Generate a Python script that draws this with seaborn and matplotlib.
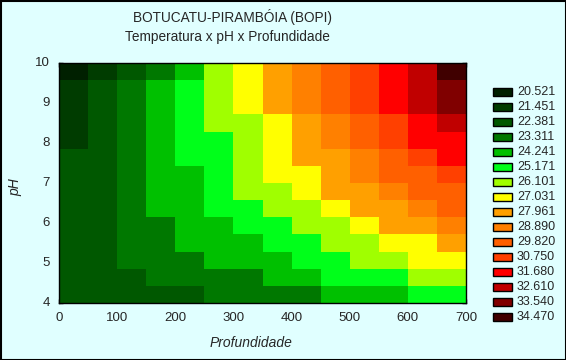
import numpy as np
import pandas as pd
import seaborn as sns
import matplotlib.pyplot as plt
from matplotlib.colors import ListedColormap, BoundaryNorm
from matplotlib.patches import Rectangle

# Legend levels (temperature) and their colours
levels = [20.521, 21.451, 22.381, 23.311, 24.241, 25.171, 26.101, 27.031,
          27.961, 28.890, 29.820, 30.750, 31.680, 32.610, 33.540, 34.470]
colors = ['#002000', '#003c00', '#005800', '#007800', '#00c000', '#00ff1a',
          '#a0ff00', '#ffff00', '#ffa000', '#ff8000', '#ff6000', '#ff4000',
          '#ff0000', '#c00000', '#800000', '#400000']

# Grid axes: profundidade (columns) and pH (rows, top = pH 10)
profundidade = [25, 75, 125, 175, 225, 275, 325, 375, 425, 475, 525, 575, 625, 675]
ph = [9.79, 9.36, 8.93, 8.50, 8.07, 7.64, 7.21, 6.79, 6.36, 5.93, 5.50, 5.07, 4.64, 4.21]

# Level index of each cell
classes = [
    [0, 1, 2, 3, 4, 6, 7, 8, 9, 10, 11, 12, 13, 15],
    [1, 2, 3, 4, 5, 6, 7, 8, 9, 10, 11, 12, 13, 14],
    [1, 2, 3, 4, 5, 6, 7, 8, 9, 10, 11, 12, 13, 14],
    [1, 2, 3, 4, 5, 6, 6, 7, 8, 9, 10, 11, 12, 13],
    [1, 2, 3, 4, 5, 5, 6, 7, 8, 9, 10, 11, 12, 12],
    [2, 2, 3, 4, 5, 5, 6, 7, 8, 8, 9, 10, 11, 12],
    [2, 2, 3, 4, 4, 5, 6, 7, 7, 8, 9, 10, 10, 11],
    [2, 2, 3, 4, 4, 5, 6, 6, 7, 8, 8, 9, 10, 10],
    [2, 2, 3, 4, 4, 5, 5, 6, 6, 7, 8, 8, 9, 10],
    [2, 2, 3, 3, 4, 4, 5, 5, 6, 6, 7, 8, 8, 9],
    [2, 2, 3, 3, 4, 4, 4, 5, 5, 6, 6, 7, 7, 8],
    [2, 2, 3, 3, 3, 4, 4, 4, 5, 5, 6, 6, 7, 7],
    [2, 2, 2, 3, 3, 3, 3, 4, 4, 5, 5, 5, 6, 6],
    [2, 2, 2, 2, 2, 3, 3, 3, 3, 4, 4, 4, 5, 5],
]

temp = pd.DataFrame(np.array(levels)[np.array(classes)], index=ph, columns=profundidade)

sns.set_style('white')
plt.rcParams['font.family'] = ['Liberation Sans', 'DejaVu Sans']
bg = '#e0ffff'

fig = plt.figure(figsize=(5.66, 3.6), dpi=100, facecolor=bg)
ax = fig.add_axes([59 / 566, 57 / 360, 407 / 566, 240 / 360])

bounds = [levels[0] - 0.465] + [(a + b) / 2 for a, b in zip(levels[:-1], levels[1:])] + [levels[-1] + 0.465]
cmap = ListedColormap(colors)
norm = BoundaryNorm(bounds, cmap.N)
sns.heatmap(temp, ax=ax, cmap=cmap, norm=norm, cbar=False, linewidths=0)

# numeric ticks on top of the categorical heatmap grid
xstep = profundidade[1] - profundidade[0]
x0 = profundidade[0] - xstep / 2
ytop = 10
xt = np.arange(0, 701, 100)
ax.set_xticks((xt - x0) / xstep)
ax.set_xticklabels([str(v) for v in xt], rotation=0)
ax.set_xticks((np.arange(0, 701, 25) - x0) / xstep, minor=True)
yt = np.arange(4, 11)
ax.set_yticks((ytop - yt) / ((ytop - 4) / len(ph)))
ax.set_yticklabels([str(v) for v in yt], rotation=0)

for s in ax.spines.values():
    s.set_visible(True)
    s.set_color('black')
    s.set_linewidth(1)
ax.tick_params(which='both', direction='in', top=True, right=True, bottom=True, left=True,
               length=3, width=1, color='black', labelsize=9.5, pad=6.5)
ax.tick_params(which='minor', labelbottom=False)

ax.set_xlabel('Profundidade', fontsize=10, style='italic', va='center')
ax.xaxis.set_label_coords((251 - 59) / 407, -40 / 240)
ax.set_ylabel('pH', fontsize=10, style='italic', va='center')
ax.yaxis.set_label_coords(-44 / 407, 116 / 240)

fig.text(232 / 566, 1 - 17 / 360, 'BOTUCATU-PIRAMBÓIA (BOPI)', ha='center', va='center', fontsize=9.8)
fig.text(227 / 566, 1 - 37 / 360, 'Temperatura x pH x Profundidade', ha='center', va='center', fontsize=9.8)

# legend boxes
for i, (val, col) in enumerate(zip(levels, colors)):
    y = 1 - (88 + 15 * i + 8) / 360
    fig.add_artist(Rectangle((493 / 566, y), 19 / 566, 8 / 360, transform=fig.transFigure,
                             facecolor=col, edgecolor='black', linewidth=1))
    fig.text(517 / 566, y + 4 / 360, f'{val:.3f}', ha='left', va='center', fontsize=9)

# outer border
fig.add_artist(Rectangle((0.5 / 566, 0.5 / 360), 1 - 1 / 566, 1 - 1 / 360, transform=fig.transFigure,
                         facecolor='none', edgecolor='black', linewidth=1.5))

fig.savefig('out.png', dpi=100, facecolor=bg)
